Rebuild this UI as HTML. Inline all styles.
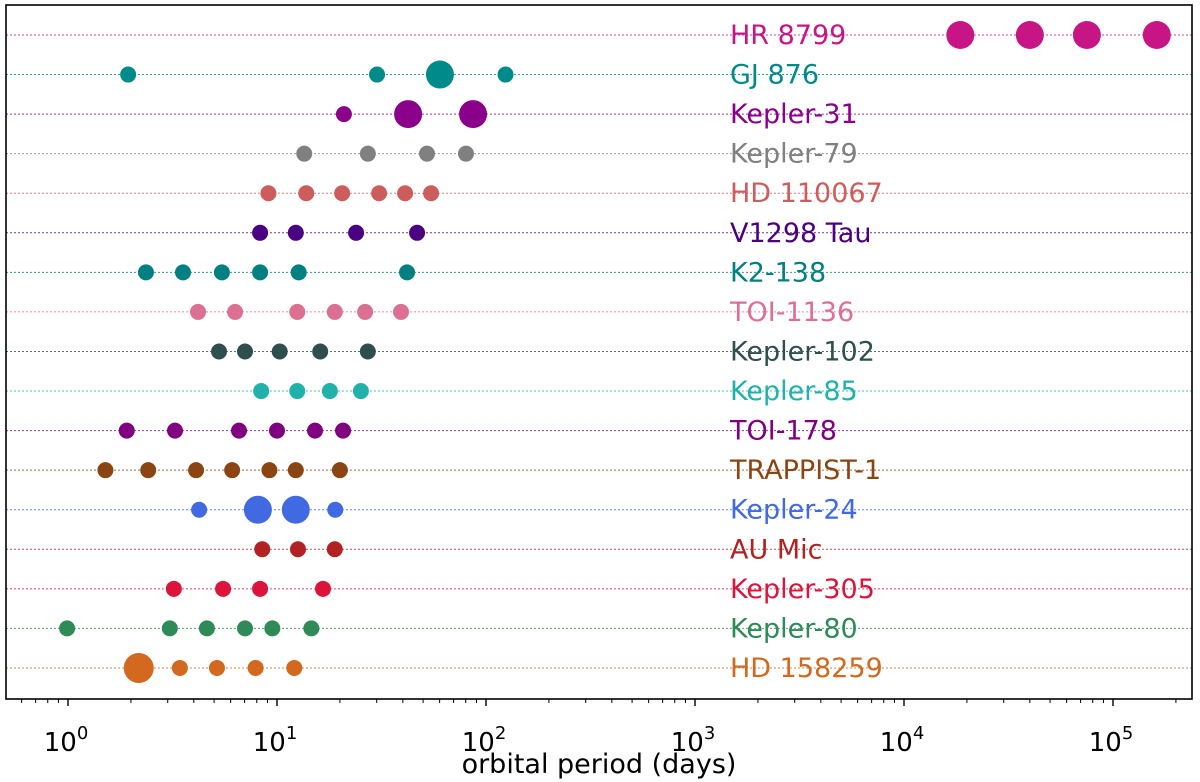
<!DOCTYPE html>
<html><head><meta charset="utf-8"><style>body{margin:0;background:#fff}svg{display:block;font-family:"DejaVu Sans","Liberation Sans",sans-serif}</style></head>
<body>
<svg id="chart" width="1200" height="782" viewBox="0 0 1200 782"></svg>
<script>
const systems=["HR 8799","GJ 876","Kepler-31","Kepler-79","HD 110067","V1298 Tau","K2-138","TOI-1136","Kepler-102","Kepler-85","TOI-178","TRAPPIST-1","Kepler-24","AU Mic","Kepler-305","Kepler-80","HD 158259"];
const colors=["#c71585","#008b8b","#8b008b","#808080","#cd5c5c","#4b0082","#008080","#db7093","#2f4f4f","#20b2aa","#800080","#8b4513","#4169e1","#b22222","#dc143c","#2e8b57","#d2691e"];
const periods=[[18600,40000,75000,162000],[1.94,30.1,60.2,124],[20.9,42.4,86.7],[13.5,27.2,52.2,80.2],[9.1,13.8,20.5,30.8,41,54.6],[8.3,12.3,23.9,46.8],[2.36,3.55,5.45,8.3,12.7,41.9],[4.19,6.3,12.5,18.9,26.4,39.2],[5.28,7.03,10.3,16.1,27.2],[8.4,12.5,17.9,25.2],[1.91,3.25,6.58,10,15.2,20.7],[1.51,2.42,4.1,6.1,9.2,12.3,20],[4.24,8.1,12.3,19],[8.5,12.6,18.9],[3.21,5.52,8.3,16.6],[0.99,3.07,4.62,7.03,9.5,14.6],[2.18,3.43,5.16,7.9,12.1]];
const radii=[[14,14,14,14],[8,8,14,8],[8,14,14],[8,8,8,8],[8,8,8,8,8,8],[8,8,8,8],[8,8,8,8,8,8],[8,8,8,8,8,8],[8,8,8,8,8],[8,8,8,8],[8,8,8,8,8,8],[8,8,8,8,8,8,8],[8,14,14,8],[8,8,8],[8,8,8,8],[8,8,8,8,8,8],[15,8,8,8,8]];
const tickExps=[0,1,2,3,4,5];
const NS="http://www.w3.org/2000/svg";
const svg=document.getElementById('chart');
const L=6,R=1192,T=5,B=699;
const x=p=>68+209*Math.log10(p);
const y=i=>35+i*39.56;
function mk(t,a,parent){const e=document.createElementNS(NS,t);for(const k in a)e.setAttribute(k,a[k]);(parent||svg).appendChild(e);return e;}
systems.forEach((s,i)=>{
  const g=mk('g',{});
  
  
  const ln=mk('line',{x1:L,x2:R,y1:y(i),y2:y(i),stroke:colors[i],'stroke-width':1,'stroke-dasharray':'2,2',opacity:0.8},g);
  
  
  periods[i].forEach((p,j)=>{
    const c=mk('circle',{cx:x(p),cy:y(i),r:radii[i][j],fill:colors[i]},g);
    
    
  });
  const t=mk('text',{x:730,y:y(i)+9,fill:colors[i],'font-size':27},g);
  t.textContent=s;
  
  
});
const fr=mk('rect',{x:L,y:T,width:R-L,height:B-T,fill:'none',stroke:'#000','stroke-width':1.6});


for(let e=-1;e<=5;e++){for(let m=1;m<10;m++){const p=m*Math.pow(10,e);const xx=x(p);if(xx<L||xx>R)continue;
  const tk=mk('line',{x1:xx,x2:xx,y1:B,y2:B+(m==1?7:4),stroke:'#000','stroke-width':m==1?1.4:1});
  
  }}
tickExps.forEach(e=>{
  const t=mk('text',{x:x(Math.pow(10,e))-2,y:751,'font-size':26,'text-anchor':'middle'});
  t.innerHTML='10<tspan dy="-12" font-size="18">'+e+'</tspan>';
  
  
});
const xl=mk('text',{x:599,y:773,'font-size':27,'text-anchor':'middle'});
xl.textContent='orbital period (days)';


</script>
</body></html>
